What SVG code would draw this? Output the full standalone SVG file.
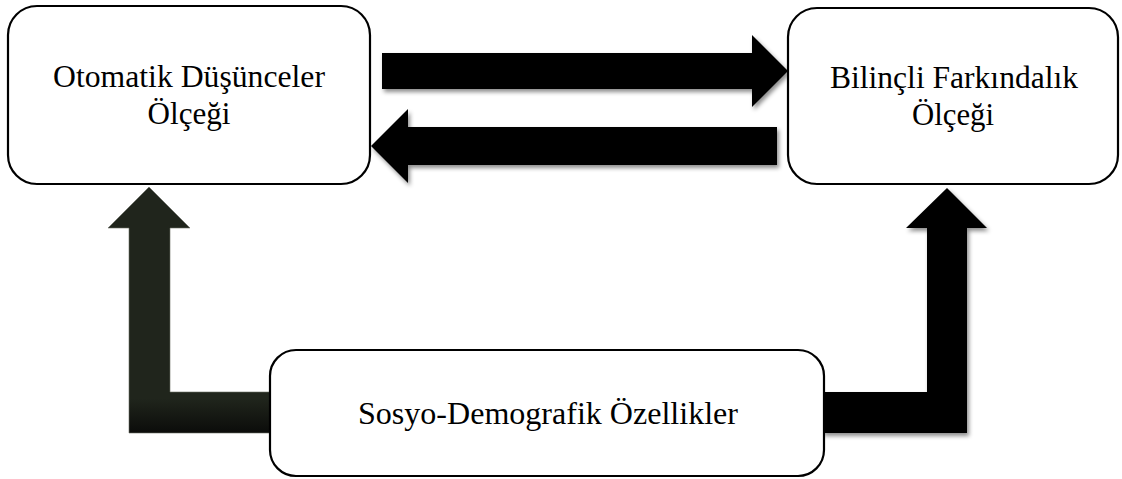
<svg xmlns="http://www.w3.org/2000/svg" width="1122" height="479" viewBox="0 0 1122 479">
  <style>
    .box { fill: #ffffff; stroke: #000000; stroke-width: 2.2; }
    .lbl { font-family: "Liberation Serif", "Times New Roman", serif; font-size: 31px; fill: #000000; text-anchor: middle; }
    .arr { fill: #000000; filter: url(#shadow); }
  </style>
  <defs>
    <filter id="shadow" x="-20%" y="-20%" width="140%" height="140%">
      <feDropShadow dx="2" dy="3" stdDeviation="2" flood-color="#000000" flood-opacity="0.45"/>
    </filter>
    <linearGradient id="greenGrad" gradientUnits="userSpaceOnUse" x1="0" y1="187" x2="0" y2="433">
      <stop offset="0" stop-color="#20251c"/>
      <stop offset="0.86" stop-color="#20251c"/>
      <stop offset="1" stop-color="#0b0c0a"/>
    </linearGradient>
  </defs>

  <g id="connectors">
    <polygon class="arr" points="382,53 752,53 752,35 788,71 752,107 752,89 382,89"/>
    <polygon class="arr" points="777,127 408,127 408,109 371,146 408,183 408,165 777,165"/>
    <polygon fill="url(#greenGrad)" stroke="#6b6e66" stroke-width="0.6" points="149,187 190,228 170,228 170,392 272,392 272,433 129,433 129,228 108,228"/>
    <polygon class="arr" points="947,188 987,228 967,228 967,433 822,433 822,392 927,392 927,228 906,228"/>
  </g>

  <g id="node-otomatik">
    <rect class="box" x="8" y="6" width="362" height="178" rx="29" ry="29"/>
    <text class="lbl" x="189" y="87" textLength="272" lengthAdjust="spacingAndGlyphs">Otomatik Düşünceler</text>
    <text class="lbl" x="189" y="124" textLength="83" lengthAdjust="spacingAndGlyphs">Ölçeği</text>
  </g>

  <g id="node-bilincli">
    <rect class="box" x="788" y="8" width="330" height="176" rx="29" ry="29"/>
    <text class="lbl" x="954" y="88" textLength="248" lengthAdjust="spacingAndGlyphs">Bilinçli Farkındalık</text>
    <text class="lbl" x="953" y="125" textLength="82" lengthAdjust="spacingAndGlyphs">Ölçeği</text>
  </g>

  <g id="node-sosyo">
    <rect class="box" x="270" y="350" width="554" height="126" rx="26" ry="26"/>
    <text class="lbl" x="548" y="424" textLength="380" lengthAdjust="spacingAndGlyphs">Sosyo-Demografik Özellikler</text>
  </g>
</svg>
